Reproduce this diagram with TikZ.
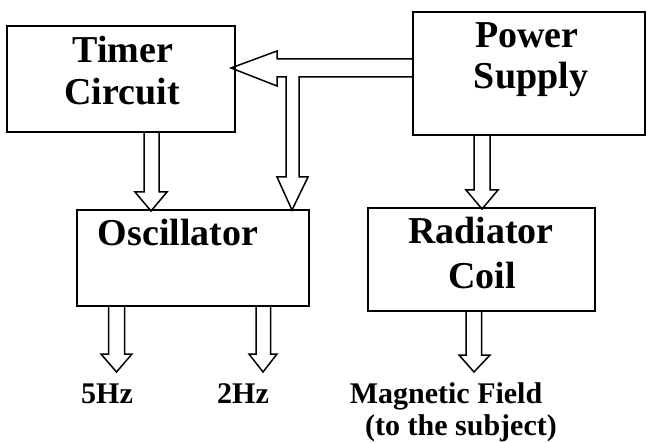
\documentclass[tikz,border=0pt]{standalone}
\usepackage{fontspec}
\setmainfont{Liberation Serif}
\begin{document}
\begin{tikzpicture}[x=1pt,y=-1pt,
  box/.style={draw, line width=2.2pt, inner sep=0pt, outer sep=0pt},
  barrow/.style={draw, line width=1.5pt, line join=miter},
  big/.style={anchor=base, inner sep=0pt, font=\bfseries\fontsize{38}{44}\selectfont},
  small/.style={anchor=base, inner sep=0pt, font=\bfseries\fontsize{30}{34}\selectfont}]
\useasboundingbox (0,0) rectangle (647,443);
% boxes
\node[box, minimum width=228pt, minimum height=106pt] (timer) at (121,79) {};
\node[box, minimum width=232pt, minimum height=123pt] (power) at (529,73.5) {};
\node[box, minimum width=232pt, minimum height=96pt] (osc) at (193,258) {};
\node[box, minimum width=227pt, minimum height=103pt] (rad) at (481.5,259.5) {};
% box texts
\node[big] (t1) at (123,63) {Timer};
\node[big] (t2) at (122,105) {Circuit};
\node[big] (p1) at (527,48) {Power};
\node[big] (p2) at (531,89) {Supply};
\node[big] (o1) at (178,246) {Oscillator};
\node[big] (r1) at (481,244) {Radiator};
\node[big] (r2) at (482,288) {Coil};
% output labels
\node[small] (l5) at (107,403) {5Hz};
\node[small] (l2) at (243,403) {2Hz};
\node[small] (lm) at (446,403) {Magnetic Field};
\node[small] (ls) at (461,435) {(to the subject)};
% tip coordinates
\coordinate (tipT) at (231,68);
\coordinate (tipB) at (292,210);
\coordinate (tipTO) at (151,211);
\coordinate (tipPR) at (482,209);
\coordinate (tip5) at (116.5,372);
\coordinate (tip2) at (263,372);
\coordinate (tipM) at (474,372);
% power -> timer, with branch down to oscillator
\draw[barrow] (power.west |- 0,59) -- (277,59) -- (277,51) -- (tipT) -- (277,86) -- (277,77)
  -- (286,77) -- (286,177) -- (277,177) -- (tipB) -- (308,177) -- (299,177) -- (299,77)
  -- (power.west |- 0,77);
% timer -> oscillator
\draw[barrow] (144,0 |- timer.south) -- (144,192) -- (135,192) -- (tipTO) -- (167,192) -- (159,192) -- (159,0 |- timer.south);
% power -> radiator
\draw[barrow] (474,0 |- power.south) -- (474,190) -- (466,190) -- (tipPR) -- (498,190) -- (490,190) -- (490,0 |- power.south);
% oscillator outputs
\draw[barrow] (108.5,0 |- osc.south) -- (108.5,354) -- (101,354) -- (tip5) -- (132,354) -- (124.5,354) -- (124.5,0 |- osc.south);
\draw[barrow] (256,0 |- osc.south) -- (256,354) -- (249,354) -- (tip2) -- (277,354) -- (270.5,354) -- (270.5,0 |- osc.south);
% radiator output
\draw[barrow] (466,0 |- rad.south) -- (466,355) -- (459,355) -- (tipM) -- (490,355) -- (481.5,355) -- (481.5,0 |- rad.south);
\end{tikzpicture}
\end{document}
